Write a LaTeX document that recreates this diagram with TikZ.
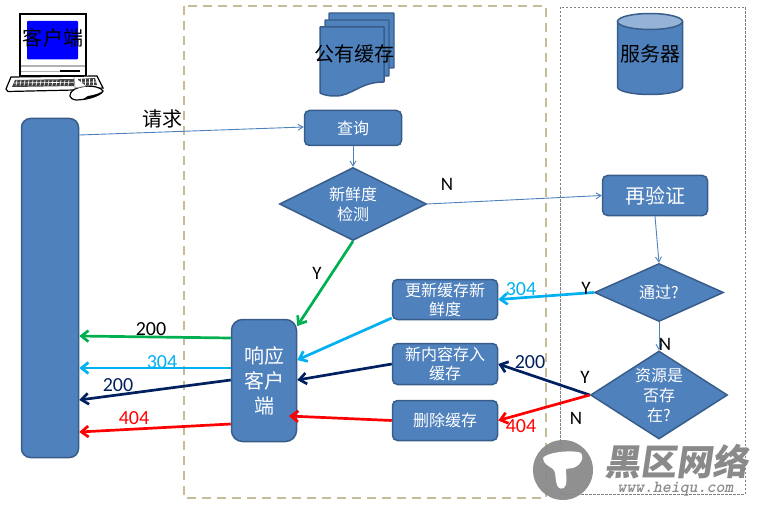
\documentclass[tikz,border=0pt]{standalone}
\usepackage{fontspec}
\setmainfont{Carlito}
\newfontfamily\cjk{Noto Sans CJK SC}
\usetikzlibrary{shapes.geometric,arrows.meta,calc}
\definecolor{bfill}{HTML}{4F81BD}
\definecolor{bedge}{HTML}{385D8A}
\definecolor{cgreen}{HTML}{00B050}
\definecolor{ccyan}{HTML}{00B0F0}
\definecolor{cnavy}{HTML}{002060}
\definecolor{cred}{HTML}{FF0000}
\definecolor{ctan}{HTML}{C4BD97}
\definecolor{wm}{HTML}{8A8A8A}
\tikzset{
  box/.style={draw=bedge,fill=bfill,line width=1.5pt,rounded corners=5pt,text=white,align=center,inner sep=0pt,font=\cjk\fontsize{16}{19}\selectfont},
  dia/.style={draw=bedge,fill=bfill,line width=1.5pt,diamond,aspect=2,text=white,align=center,inner sep=0pt,font=\cjk\fontsize{16}{20}\selectfont},
  thin link/.style={draw=bfill,line width=.9pt,-{Straight Barb[length=5pt,width=6pt]}},
  fat link/.style={line width=2.7pt,-{Straight Barb[length=7pt,width=11pt]}},
  lab/.style={inner sep=0pt,font=\fontsize{20}{22}\selectfont},
  yn/.style={inner sep=0pt,font=\fontsize{19}{20}\selectfont},
  big/.style={inner sep=0pt,font=\cjk\fontsize{20}{22}\selectfont},
}
\begin{document}
\begin{tikzpicture}[x=1pt,y=-1pt]
\useasboundingbox (0,0) rectangle (765,505);
% group frames
\draw[ctan,line width=1.8pt,dash pattern=on 9pt off 6pt] (184,6) rectangle (546,498);
\draw[gray,line width=.8pt,dash pattern=on 2.5pt off 1.5pt] (560,7) rectangle (745,494);

% computer
\draw[black,line width=1.2pt,fill=white] (20,14) rectangle (86,76);
\fill[blue,rounded corners=1pt] (27,21) rectangle (78,59.5);
\draw[gray!60,line width=1.5pt] (21,66) -- (85,66);
\draw[gray!60,line width=.8pt] (21,71) -- (60,71);
\draw[black,line width=1.5pt] (60,71) -- (80,71);
\draw[black,line width=1.2pt,fill=white] (11,77) -- (97,76) -- (103,88) -- (75,90) -- (8,91.5) -- (6,89) -- cycle;
\fill[black!75] (15,80) -- (74,79) -- (74,86) -- (12,87) -- cycle;
\fill[black!75] (78,79) -- (95,78) -- (97,85) -- (78,86) -- cycle;
\foreach \k in {17,21,...,72}{\draw[white,line width=.6pt] (\k,80) -- (\k-1,86);}
\foreach \k in {81,85,...,95}{\draw[white,line width=.6pt] (\k,79) -- (\k,85);}
\draw[white,line width=.6pt] (14,83) -- (96,82);
\draw[black,line width=1.2pt,fill=white] (75,89) .. controls (85,84) and (100,86) .. (103,91) .. controls (101,96) and (85,100) .. (76,100) .. controls (69,99) and (67,94) .. (75,89) -- cycle;
\fill[black] (88,96) .. controls (95,95) and (100,93) .. (103,91) .. controls (101,96) and (90,99) .. (82,100) -- cycle;
\draw[black!40,line width=.8pt,fill=white] (74,77) -- (75,88) -- (86,86);
\node[inner sep=0pt,font=\cjk\fontsize{20}{22}\selectfont] (clientlabel) at (53,37.5) {客户端};

% stacked documents
\draw[bedge,line width=1.3pt,fill=bfill,rounded corners=.5pt] (329,13) rectangle (394,68);
\draw[bedge,line width=1.3pt,fill=bfill,rounded corners=.5pt] (325,20) rectangle (389,76);
\draw[bedge,line width=1.5pt,fill=bfill,rounded corners=.5pt]
  (320,27) -- (384,27) -- (384,82) .. controls (360,82) and (352,96) .. (335,96) .. controls (329,96) and (324,95) .. (320,93) -- cycle;
\node[big] (cachelabel) at (354,54) {公有缓存};

% database
\draw[bedge,line width=1.5pt,fill=bfill] (617.5,21.5) -- (617.5,87) arc[start angle=180,end angle=0,x radius=32.5,y radius=7.5] -- (682.5,21.5);
\draw[bedge,line width=1.5pt,fill=bfill!60!white] (650,21.5) ellipse[x radius=32.5,y radius=8];
\node[big] (serverlabel) at (650,54) {服务器};

% nodes
\node[box,rounded corners=9pt,minimum width=57pt,minimum height=339pt] (left) at (50,288) {};
\node[box,minimum width=97pt,minimum height=35pt] (query) at (353,128) {查询};
\node[dia,minimum width=147pt,minimum height=73pt] (fresh) at (353,204) {新鲜度\\检测};
\node[box,font=\cjk\fontsize{20}{22}\selectfont,minimum width=105pt,minimum height=40pt] (reval) at (655,195.5) {再验证};
\node[dia,aspect=2.2,minimum width=129pt,minimum height=58pt] (pass) at (659,292.5) {通过?};
\node[dia,aspect=1.55,minimum width=137pt,minimum height=88pt,font=\cjk\fontsize{16}{20}\selectfont] (exist) at (659,395) {资源是\\否存\\在?};
\node[box,minimum width=105pt,minimum height=40pt] (update) at (445,299.5) {更新缓存新\\鲜度};
\node[box,minimum width=105pt,minimum height=41pt] (store) at (445,364) {新内容存入\\缓存};
\node[box,minimum width=105pt,minimum height=40pt] (delete) at (445,420.5) {删除缓存};
\node[box,rounded corners=11pt,font=\cjk\fontsize{20}{25}\selectfont,minimum width=65pt,minimum height=122pt] (resp) at (264,380.5) {响应\\客户\\端};

% thin connectors
\path[thin link] (left.east |- 0,135) -- (query.west |- 0,127);
\path[thin link] (query.south) -- (fresh.north);
\path[thin link] (fresh.east) -- (reval.west);
\path[thin link] (reval.south) -- (pass.north);
\path[thin link] (pass.south) -- (exist.north);

% thick connectors
\draw[fat link,cgreen] (fresh.south) -- (resp.east |- 0,326);
\draw[fat link,ccyan] (pass.west) -- (update.east);
\draw[fat link,ccyan] (update.west |- 0,318) -- (resp.east |- 0,360);
\draw[fat link,cnavy] (exist.west) -- (store.east);
\draw[fat link,cred] (exist.west) -- (delete.east);
\draw[fat link,cnavy] (store.west) -- (resp.east |- 0,380);
\draw[fat link,cred] (delete.west) -- (289,416);
\draw[fat link,cgreen] (resp.west |- 0,338) -- (left.east |- 0,336);
\draw[fat link,ccyan] (resp.west |- 0,368) -- (left.east |- 0,368);
\draw[fat link,cnavy] (resp.west |- 0,380) -- (left.east |- 0,400);
\draw[fat link,cred] (resp.west |- 0,424) -- (left.east |- 0,432);

% labels
\node[inner sep=0pt,font=\cjk\fontsize{20}{22}\selectfont] (reqlabel) at (162,119) {请求};
\node[yn] (l1) at (447,184) {N};
\node[yn] (l2) at (317,273) {Y};
\node[lab,ccyan] (l3) at (521,289) {304};
\node[yn] (l4) at (586,288) {Y};
\node[yn] (l5) at (665,344) {N};
\node[yn] (l6) at (585,377) {Y};
\node[yn] (l7) at (576,418) {N};
\node[lab,cnavy] (l8) at (530,362) {200};
\node[lab,cred] (l9) at (521,426) {404};
\node[lab] (l10) at (151,329) {200};
\node[lab,ccyan] (l11) at (162,362) {304};
\node[lab,cnavy] (l12) at (118,385) {200};
\node[lab,cred] (l13) at (134,418) {404};

% watermark
\fill[wm,opacity=.95] (563,470) circle[radius=30];
\fill[white] (543,458) .. controls (546,453) and (566,450) .. (578,452) .. controls (585,453) and (583,462) .. (577,466) .. controls (573,469) and (570,468) .. (566,469) .. controls (566,477) and (568,484) .. (564,488) .. controls (559,490) and (557,487) .. (556,481) .. controls (555,476) and (556,472) .. (553,469) .. controls (549,466) and (543,464) .. (543,458) -- cycle;
\node[inner sep=0pt,text=wm,xslant=.15,font=\cjk\bfseries\fontsize{36}{38}\selectfont] (wmtext) at (679,462) {黑区网络};
\node[inner sep=0pt,text=wm,xslant=.2,font=\ttfamily\bfseries\fontsize{17}{18}\selectfont] (wmurl) at (676,489) {www.heiqu.com};
\end{tikzpicture}
\end{document}
